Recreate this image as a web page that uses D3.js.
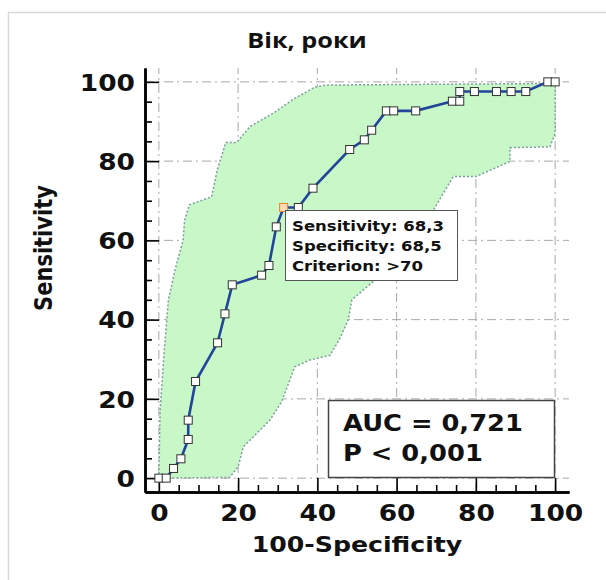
<!DOCTYPE html>
<html>
<head>
<meta charset="utf-8">
<script src="https://cdn.jsdelivr.net/npm/d3@7"></script>
<style>
  body { margin: 0; background: #fff; }
  svg { display: block; }
</style>
</head>
<body>
<script>
// ROC points: 100-Specificity and Sensitivity
var fpr  = [0, 1.85, 3.70, 5.56, 7.41, 7.41, 9.26, 14.81, 16.67, 18.52, 25.93, 27.78, 29.63, 31.48, 35.19, 38.89,
            48.15, 51.85, 53.70, 57.41, 59.26, 64.81, 74.07, 75.93, 75.93, 79.63, 85.19, 88.89, 92.59, 98.15, 100];
var sens = [0, 0, 2.44, 4.88, 9.76, 14.63, 24.39, 34.15, 41.46, 48.78, 51.22, 53.66, 63.41, 68.29, 68.29, 73.17,
            82.93, 85.37, 87.80, 92.68, 92.68, 92.68, 95.12, 95.12, 97.56, 97.56, 97.56, 97.56, 97.56, 100, 100];
var criterionIndex = 13;

// confidence band
var upperX = [0, 0.3, 1.2, 2.4, 4.2, 6.1, 6.5, 7.7, 13.3, 14.8, 16.9, 19.6, 23, 28.9, 33.9, 39.4, 42.3, 100, 100];
var upperY = [0, 17, 30, 45, 53, 60, 65, 69, 71, 78, 84.7, 84.7, 88.7, 92.1, 95.6, 98.7, 99.2, 99.6, 100];
var lowerX = [100, 100, 98.7, 88.6, 88.6, 80, 74.3, 71.8, 69.3, 54.1, 51.6, 48.7, 47.8, 45.7, 43.2, 38.1, 34.3, 31, 28, 23.8, 21.3, 20, 17.9, 0];
var lowerY = [100, 87, 83.6, 83.4, 79.9, 76.1, 76.1, 71.9, 67.7, 49.6, 47.5, 45, 40, 35.3, 31, 29.8, 28.1, 19.3, 14.6, 10.4, 7.9, 2.9, 0.2, 0];

var majorTicks = [0, 20, 40, 60, 80, 100];
var minorTicks = [5, 10, 15, 25, 30, 35, 45, 50, 55, 65, 70, 75, 85, 90, 95];

var titleText = 'Вік, роки';
var xTitle = '100-Specificity';
var yTitle = 'Sensitivity';
var infoLines = ['Sensitivity: 68,3', 'Specificity: 68,5', 'Criterion: >70'];
var aucLines = ['AUC = 0,721', 'P < 0,001'];

var font = '"DejaVu Sans", Verdana, sans-serif';

var svg = d3.select('body').append('svg')
    .attr('width', 606)
    .attr('height', 580);

// outer frame
svg.append('rect')
    .attr('x', 8.5).attr('y', 12.5)
    .attr('width', 640).attr('height', 620)
    .attr('fill', 'none')
    .attr('stroke', '#d9d9d9')
    .attr('stroke-width', 1.5);

// scales
var x = d3.scaleLinear().domain([-3.5, 103.5]).range([145, 569]);
var y = d3.scaleLinear().domain([-3.5, 103.5]).range([492, 68]);

// grid
var grid = svg.append('g');
grid.selectAll('.gx').data(majorTicks).enter().append('line')
    .attr('x1', function (d) { return x(d); })
    .attr('x2', function (d) { return x(d); })
    .attr('y1', y(-3.5)).attr('y2', y(103.5));
grid.selectAll('.gy').data(majorTicks).enter().append('line')
    .attr('x1', x(-3.5)).attr('x2', x(103.5))
    .attr('y1', function (d) { return y(d); })
    .attr('y2', function (d) { return y(d); });
grid.selectAll('line')
    .attr('stroke', '#a8a8a8')
    .attr('stroke-width', 1)
    .attr('stroke-dasharray', '9,4,2,4');

// band
var bandPts = upperX.map(function (d, i) { return [d, upperY[i]]; })
    .concat(lowerX.map(function (d, i) { return [d, lowerY[i]]; }));
var line = d3.line()
    .x(function (d) { return x(d[0]); })
    .y(function (d) { return y(d[1]); });
svg.append('path')
    .attr('d', line(bandPts) + 'Z')
    .attr('fill', '#c8f7c8')
    .attr('stroke', 'none');
svg.append('path')
    .attr('d', line(upperX.map(function (d, i) { return [d, upperY[i]]; })))
    .attr('fill', 'none').attr('stroke', '#7f9d9d')
    .attr('stroke-width', 1.5).attr('stroke-dasharray', '2,2');
svg.append('path')
    .attr('d', line(lowerX.map(function (d, i) { return [d, lowerY[i]]; })))
    .attr('fill', 'none').attr('stroke', '#7f9d9d')
    .attr('stroke-width', 1.5).attr('stroke-dasharray', '2,2');

// axes
var yMajor = d3.axisRight(y).tickValues(majorTicks).tickSize(14).tickSizeOuter(0).tickFormat('');
var yMinor = d3.axisRight(y).tickValues(minorTicks).tickSize(7).tickSizeOuter(0).tickFormat('');
var xMajor = d3.axisTop(x).tickValues(majorTicks).tickSize(14).tickSizeOuter(0).tickFormat('');
var xMinor = d3.axisTop(x).tickValues(minorTicks).tickSize(7).tickSizeOuter(0).tickFormat('');

[yMajor, yMinor].forEach(function (ax) {
    var g = svg.append('g').attr('transform', 'translate(145,0)').call(ax);
    g.select('.domain').attr('stroke', '#000').attr('stroke-width', 2.5);
    g.selectAll('.tick line').attr('stroke', '#000').attr('stroke-width', 1.6);
});
[xMajor, xMinor].forEach(function (ax) {
    var g = svg.append('g').attr('transform', 'translate(0,492)').call(ax);
    g.select('.domain').attr('stroke', '#000').attr('stroke-width', 2.5);
    g.selectAll('.tick line').attr('stroke', '#000').attr('stroke-width', 1.6);
});

// tick labels
var yLab = svg.append('g').attr('transform', 'translate(145,0)')
    .call(d3.axisLeft(y).tickValues(majorTicks).tickSize(0).tickPadding(10));
yLab.select('.domain').remove();
yLab.selectAll('text')
    .attr('font-family', font).attr('font-size', 23).attr('font-weight', 'bold')
    .attr('fill', '#111')
    .attr('x', 0).attr('dy', '0.36em')
    .attr('transform', 'translate(-10,0) scale(1.15,1)');

var xLab = svg.append('g').attr('transform', 'translate(0,492)')
    .call(d3.axisBottom(x).tickValues(majorTicks).tickSize(0).tickPadding(0));
xLab.select('.domain').remove();
xLab.selectAll('text')
    .attr('font-family', font).attr('font-size', 23).attr('font-weight', 'bold')
    .attr('fill', '#111')
    .attr('y', 0).attr('dy', 0)
    .attr('transform', 'translate(0,29) scale(1.15,1)');

// ROC curve
var roc = fpr.map(function (d, i) { return [d, sens[i]]; });
svg.append('path')
    .attr('d', line(roc))
    .attr('fill', 'none')
    .attr('stroke', '#22449a')
    .attr('stroke-width', 2.6);
svg.selectAll('.pt').data(roc).enter().append('rect')
    .attr('x', function (d) { return x(d[0]) - 4; })
    .attr('y', function (d) { return y(d[1]) - 4; })
    .attr('width', 8).attr('height', 8)
    .attr('fill', function (d, i) { return i === criterionIndex ? '#fdd9b5' : '#fff'; })
    .attr('stroke', function (d, i) { return i === criterionIndex ? '#e8862a' : '#333'; })
    .attr('stroke-width', 1);

// criterion box
svg.append('rect')
    .attr('x', 285.5).attr('y', 210.5)
    .attr('width', 172).attr('height', 70)
    .attr('fill', '#fff').attr('stroke', '#555').attr('stroke-width', 1);
svg.selectAll('.info').data(infoLines).enter().append('text')
    .attr('transform', function (d, i) { return 'translate(292,' + (231 + i * 20) + ') scale(1.14,1)'; })
    .attr('font-family', font).attr('font-size', 14.5).attr('font-weight', 'bold')
    .attr('fill', '#111')
    .text(function (d) { return d; });

// AUC box
svg.append('rect')
    .attr('x', 328.5).attr('y', 400.5)
    .attr('width', 226).attr('height', 77)
    .attr('fill', '#fff').attr('stroke', '#444').attr('stroke-width', 1.5);
svg.selectAll('.auc').data(aucLines).enter().append('text')
    .attr('transform', function (d, i) { return 'translate(343,' + (431 + i * 30) + ') scale(1.12,1)'; })
    .attr('font-family', font).attr('font-size', 23).attr('font-weight', 'bold')
    .attr('fill', '#111')
    .text(function (d) { return d; });

// titles
svg.append('text')
    .attr('transform', 'translate(307,48) scale(1.15,1)')
    .attr('text-anchor', 'middle')
    .attr('font-family', '"Open Sans", sans-serif').attr('font-size', 22).attr('font-weight', 'bold')
    .attr('fill', '#111')
    .text(titleText);

svg.append('text')
    .attr('transform', 'translate(357,552) scale(1.2,1)')
    .attr('text-anchor', 'middle')
    .attr('font-family', font).attr('font-size', 21).attr('font-weight', 'bold')
    .attr('fill', '#111')
    .text(xTitle);

svg.append('text')
    .attr('transform', 'translate(52,248) rotate(-90) scale(1,1.2)')
    .attr('text-anchor', 'middle')
    .attr('font-family', font).attr('font-size', 21).attr('font-weight', 'bold')
    .attr('fill', '#111')
    .text(yTitle);
</script>
</body>
</html>
